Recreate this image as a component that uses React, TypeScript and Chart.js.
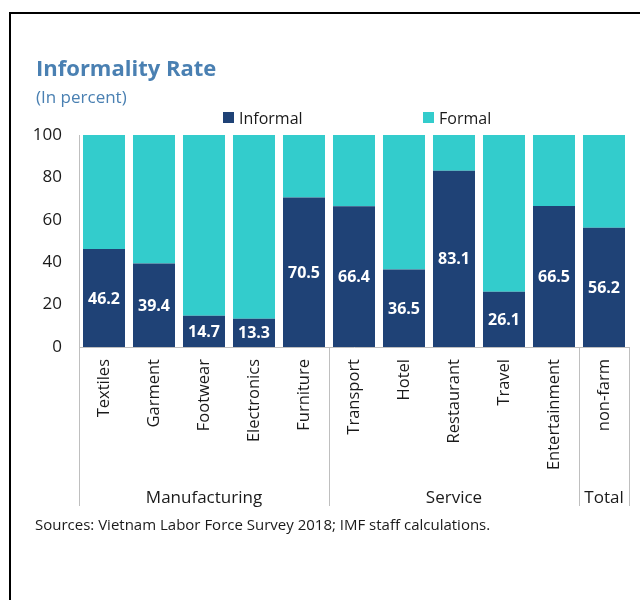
import React, { useEffect, useRef } from "react";
import { Chart, registerables } from "chart.js";

Chart.register(...registerables);

const categories = [
  "Textiles",
  "Garment",
  "Footwear",
  "Electronics",
  "Furniture",
  "Transport",
  "Hotel",
  "Restaurant",
  "Travel",
  "Entertainment",
  "non-farm",
];
const informal = [46.2, 39.4, 14.7, 13.3, 70.5, 66.4, 36.5, 83.1, 26.1, 66.5, 56.2];
const formal = [53.8, 60.6, 85.3, 86.7, 29.5, 33.6, 63.5, 16.9, 73.9, 33.5, 43.8];
const groupLabels = ["Manufacturing", "Service", "Total"];
const groupSizes = [5, 5, 1];
const seriesNames = ["Informal", "Formal"];
const yMin = 0;
const yMax = 100;
const yStep = 20;

const titleText = "Informality Rate";
const subtitleText = "(In percent)";
const sourceText = "Sources: Vietnam Labor Force Survey 2018; IMF staff calculations.";

const NAVY = "#1F4276";
const TEAL = "#33CCCC";
const TITLE_BLUE = "#4A80B2";
const AXIS_GRAY = "#BFBFBF";
const TEXT = "#1A1A1A";
const FONT = "'Open Sans', 'Noto Sans', sans-serif";

const overlay = {
  id: "overlay",
  beforeDraw(chart: any) {
    const ctx = chart.ctx;
    ctx.save();
    ctx.fillStyle = "#ffffff";
    ctx.fillRect(0, 0, chart.width, chart.height);
    ctx.strokeStyle = "#000000";
    ctx.lineWidth = 2;
    ctx.strokeRect(10, 13, chart.width + 20, chart.height + 20);
    ctx.restore();
  },
  afterDraw(chart: any) {
    const ctx = chart.ctx;
    const xs = chart.scales.x;
    const area = chart.chartArea;
    ctx.save();

    // title & subtitle
    ctx.textAlign = "left";
    ctx.textBaseline = "alphabetic";
    ctx.fillStyle = TITLE_BLUE;
    ctx.font = `bold 22px ${FONT}`;
    ctx.fillText(titleText, 36, 76);
    ctx.font = `17px ${FONT}`;
    ctx.fillText(subtitleText, 36, 103);

    // legend
    const legendX = [223, 423];
    const colors = [NAVY, TEAL];
    ctx.font = `16px ${FONT}`;
    seriesNames.forEach((name, i) => {
      ctx.fillStyle = colors[i];
      ctx.fillRect(legendX[i], 112, 11, 11);
      ctx.fillStyle = TEXT;
      ctx.fillText(name, legendX[i] + 16, 124);
    });

    // data labels (informal)
    const meta = chart.getDatasetMeta(0);
    ctx.font = `bold 16px ${FONT}`;
    ctx.fillStyle = "#ffffff";
    ctx.textAlign = "center";
    ctx.textBaseline = "middle";
    meta.data.forEach((bar: any, i: number) => {
      const y = (bar.y + bar.base) / 2;
      ctx.fillText(informal[i].toFixed(1), bar.x, y + 1);
    });

    // group separators and labels
    const step = xs.getPixelForValue(1) - xs.getPixelForValue(0);
    const edge = (i: number) => xs.getPixelForValue(i) - step / 2;
    const lineBottom = 506;
    ctx.strokeStyle = AXIS_GRAY;
    ctx.lineWidth = 1;
    let start = 0;
    const bounds: number[] = [0];
    groupSizes.forEach((n) => {
      start += n;
      bounds.push(start);
    });
    bounds.forEach((b) => {
      const x = Math.round(edge(b)) + 0.5;
      ctx.beginPath();
      ctx.moveTo(x, area.bottom);
      ctx.lineTo(x, lineBottom);
      ctx.stroke();
    });
    ctx.font = `17px ${FONT}`;
    ctx.fillStyle = TEXT;
    ctx.textAlign = "center";
    ctx.textBaseline = "alphabetic";
    groupLabels.forEach((g, i) => {
      const cx = (edge(bounds[i]) + edge(bounds[i + 1])) / 2;
      ctx.fillText(g, cx, 503);
    });

    // sources
    ctx.textAlign = "left";
    ctx.font = `15px ${FONT}`;
    ctx.fillText(sourceText, 35, 530);

    ctx.restore();
  },
};

export default function App() {
  const ref = useRef<HTMLCanvasElement | null>(null);

  useEffect(() => {
    if (!ref.current) return;
    const chart = new Chart(ref.current, {
      type: "bar",
      data: {
        labels: categories,
        datasets: [
          {
            label: seriesNames[0],
            data: informal,
            backgroundColor: NAVY,
            borderWidth: 0,
            categoryPercentage: 0.84,
            barPercentage: 1,
          },
          {
            label: seriesNames[1],
            data: formal,
            backgroundColor: TEAL,
            borderWidth: 0,
            categoryPercentage: 0.84,
            barPercentage: 1,
          },
        ],
      },
      options: {
        responsive: false,
        animation: false,
        layout: { padding: { top: 135, right: 11, left: 0, bottom: 0 } },
        plugins: {
          legend: { display: false },
          title: { display: false },
          tooltip: { enabled: false },
        },
        scales: {
          x: {
            stacked: true,
            grid: { display: false, drawTicks: false },
            border: { display: true, color: AXIS_GRAY, width: 1 },
            ticks: {
              autoSkip: false,
              minRotation: 90,
              maxRotation: 90,
              padding: 12,
              color: TEXT,
              font: { family: FONT, size: 16.5 },
            },
            afterFit: (s: any) => {
              s.height = 253;
            },
          },
          y: {
            stacked: true,
            min: yMin,
            max: yMax,
            grid: { display: false, drawTicks: false },
            border: { display: true, color: AXIS_GRAY, width: 1 },
            ticks: {
              stepSize: yStep,
              padding: 17,
              color: TEXT,
              font: { family: FONT, size: 17 },
            },
            afterFit: (s: any) => {
              s.width = 79;
            },
          },
        },
      },
      plugins: [overlay],
    });
    return () => chart.destroy();
  }, []);

  return (
    <div style={{ position: "fixed", left: 0, top: 0, width: 640, height: 600 }}>
      <canvas ref={ref} width={640} height={600} style={{ display: "block" }} />
    </div>
  );
}
